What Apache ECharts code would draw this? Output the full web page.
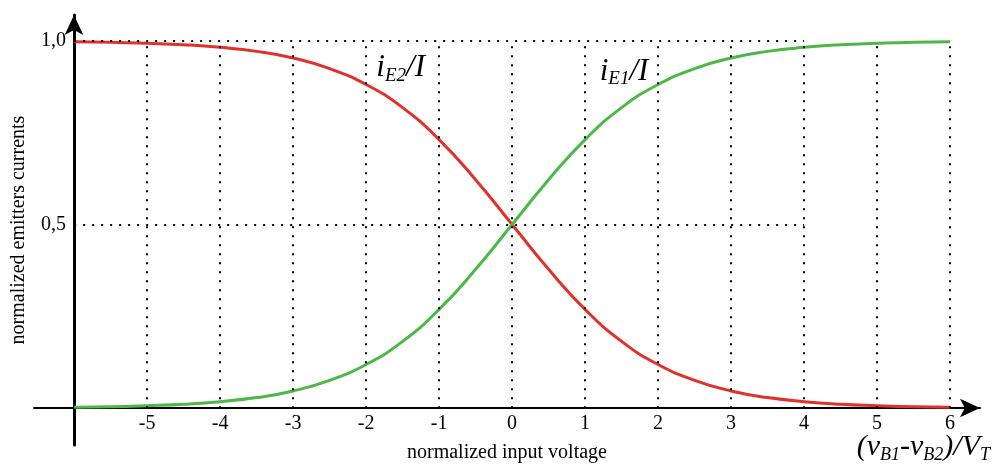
<!DOCTYPE html>
<html>
<head>
<meta charset="utf-8">
<script src="https://cdn.jsdelivr.net/npm/echarts@6/dist/echarts.min.js"></script>
<style>
  html, body { margin: 0; padding: 0; background: #fff; }
  #chart { width: 996px; height: 470px; }
</style>
</head>
<body>
<div id="chart"></div>
<script>
// normalized input voltage (v_B1 - v_B2)/V_T
const xValues = [-6, -5.5, -5, -4.5, -4, -3.5, -3, -2.5, -2, -1.5, -1, -0.5, 0,
  0.5, 1, 1.5, 2, 2.5, 3, 3.5, 4, 4.5, 5, 5.5, 6]
// i_E1 / I (green)
const iE1 = [0.0025, 0.004, 0.007, 0.011, 0.018, 0.029, 0.047, 0.076, 0.119, 0.182, 0.269, 0.378, 0.5,
  0.622, 0.731, 0.818, 0.881, 0.924, 0.953, 0.971, 0.982, 0.989, 0.993, 0.996, 0.9975]
// i_E2 / I (red)
const iE2 = [0.9975, 0.996, 0.993, 0.989, 0.982, 0.971, 0.953, 0.924, 0.881, 0.818, 0.731, 0.622, 0.5,
  0.378, 0.269, 0.182, 0.119, 0.076, 0.047, 0.029, 0.018, 0.011, 0.007, 0.004, 0.0025]

const xTicks = [-5, -4, -3, -2, -1, 0, 1, 2, 3, 4, 5, 6]
const yTicks = [0.5, 1.0]
const hLines = [1.0, 0.5]        // dotted horizontals, drawn from x=-6 to x=4
const hLineEnd = 4
const xStart = -6

const font = 'Liberation Serif'
const red = '#e2312b'
const green = '#4db848'

const chart = echarts.init(document.getElementById('chart'))

const dotted = { color: '#000', width: 2, type: [2, 7] }
const gridLines = [
  ...xTicks.map(x => [{ coord: [x, 0] }, { coord: [x, 1] }]),
  ...hLines.map(y => [{ coord: [xStart, y] }, { coord: [hLineEnd, y] }])
]

const subRich = {
  a: { fontFamily: font, fontStyle: 'italic', fontSize: 31, color: '#000', lineHeight: 36 },
  b: { fontFamily: font, fontStyle: 'italic', fontSize: 19, color: '#000', lineHeight: 36, padding: [15, 0, 0, 0] }
}

chart.setOption({
  animation: false,
  grid: { left: 34, right: 16, top: 15, bottom: 25, outerBoundsMode: 'none' },
  xAxis: {
    type: 'value',
    min: -6.55,
    max: 6.41,
    offset: -37,
    name: 'normalized input voltage',
    nameLocation: 'middle',
    nameGap: 35,
    nameTextStyle: { fontFamily: font, fontSize: 20, color: '#000' },
    axisLine: {
      onZero: false,
      lineStyle: { color: '#000', width: 2 },
      symbol: ['none', 'arrow'],
      symbolSize: [14, 20]
    },
    axisTick: { show: false },
    splitLine: { show: false },
    axisLabel: {
      customValues: xTicks,
      margin: 6,
      fontFamily: font,
      fontSize: 20,
      color: '#000'
    }
  },
  yAxis: {
    type: 'value',
    min: -0.1,
    max: 1.07,
    offset: -40,
    name: 'normalized emitters currents',
    nameLocation: 'middle',
    nameGap: 45,
    nameTextStyle: { fontFamily: font, fontSize: 20, color: '#000' },
    axisLine: {
      onZero: false,
      lineStyle: { color: '#000', width: 3 },
      symbol: ['none', 'arrow'],
      symbolSize: [14, 20]
    },
    axisTick: { show: false },
    splitLine: { show: false },
    axisLabel: {
      customValues: yTicks,
      margin: 8,
      fontFamily: font,
      fontSize: 20,
      color: '#000',
      formatter: v => v.toFixed(1).replace('.', ',')
    }
  },
  series: [
    {
      name: 'iE2/I',
      type: 'line',
      data: xValues.map((x, i) => [x, iE2[i]]),
      smooth: true,
      symbol: 'none',
      lineStyle: { color: red, width: 3 },
      z: 3,
      markPoint: {
        symbolSize: 0,
        label: {
          show: true,
          position: 'right',
          distance: 0,
          formatter: '{a|i}{b|E2}{a|/I}',
          rich: subRich
        },
        data: [{ coord: [-1.86, 0.925] }]
      }
    },
    {
      name: 'iE1/I',
      type: 'line',
      data: xValues.map((x, i) => [x, iE1[i]]),
      smooth: true,
      symbol: 'none',
      lineStyle: { color: green, width: 3 },
      z: 3,
      markPoint: {
        symbolSize: 0,
        label: {
          show: true,
          position: 'right',
          distance: 0,
          formatter: '{a|i}{b|E1}{a|/I}',
          rich: subRich
        },
        data: [{ coord: [1.2, 0.915] }]
      },
      markLine: {
        silent: true,
        symbol: 'none',
        label: { show: false },
        lineStyle: dotted,
        data: gridLines
      }
    }
  ],
  graphic: [
    {
      type: 'text',
      right: 6,
      top: 431,
      style: {
        text: '{a|(}{a|v}{b|B1}{a|-v}{b|B2}{a|)/V}{b|T}',
        rich: {
          a: { fontFamily: font, fontStyle: 'italic', fontSize: 30, color: '#000', lineHeight: 36 },
          b: { fontFamily: font, fontStyle: 'italic', fontSize: 18, color: '#000', lineHeight: 36, padding: [15, 0, 0, 0] }
        }
      }
    }
  ]
})
</script>
</body>
</html>
